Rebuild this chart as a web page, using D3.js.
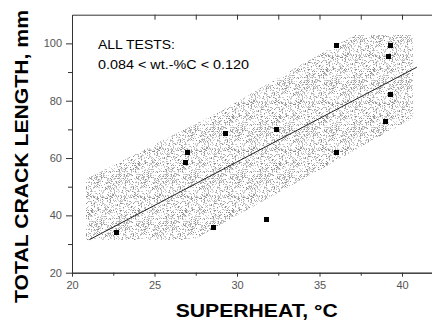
<!DOCTYPE html>
<html>
<head>
<meta charset="utf-8">
<script src="https://cdn.jsdelivr.net/npm/d3@7"></script>
<style>
  html, body { margin: 0; padding: 0; background: #fff; }
  svg { display: block; }
</style>
</head>
<body>
<svg id="chart" width="432" height="321"></svg>
<script>
// ---- data ----
const superheat = [22.7, 26.9, 27.0, 28.6, 29.3, 31.8, 32.4, 36.0, 36.0, 39.0, 39.2, 39.3, 39.3];
const crackLength = [33.9, 58.5, 61.8, 35.6, 68.6, 38.4, 70.0, 61.9, 99.2, 72.8, 95.5, 82.1, 99.2];
const fitX = [21.05, 40.9];
const fitY = [31.5, 91.7];
const bandX = [20.85, 20.85, 28.97, 33.82, 37.15, 40.67, 40.67, 27.33];
const bandY = [31.4, 52.7, 76.2, 92.4, 102.9, 102.9, 74.0, 31.4];
const xMajorTicks = [20, 25, 30, 35, 40];
const xMinorTicks = [22.5, 27.5, 32.5, 37.5];
const xTopTicks = [25, 27.5, 30, 32.5, 35, 37.5, 40];
const yMajorTicks = [20, 40, 60, 80, 100];
const yMinorTicks = [30, 50, 70, 90];
const note1 = "ALL TESTS:";
const note2 = "0.084 < wt.-%C < 0.120";
const xTitle = "SUPERHEAT, °C";
const yTitle = "TOTAL CRACK LENGTH, mm";

// ---- layout ----
const svg = d3.select("#chart");
const x = d3.scaleLinear().domain([20, 42]).range([72, 435]);
const y = d3.scaleLinear().domain([20, 110]).range([272.7, 14.7]);
const axisColor = "#333";
const labelColor = "#555";

// stipple texture (deterministic hash, purely decorative)
function hash(n) {
  n = Math.imul(n ^ (n >>> 16), 0x45d9f3b);
  n = Math.imul(n ^ (n >>> 16), 0x45d9f3b);
  return (n ^ (n >>> 16)) >>> 0;
}
const T = 47;
const defs = svg.append("defs");
const pat = defs.append("pattern").attr("id", "stipple")
  .attr("patternUnits", "userSpaceOnUse").attr("width", T).attr("height", T);
const tiles = [];
for (let i = 0; i < T; i++) {
  for (let j = 0; j < T; j++) {
    const h = hash(i * 7919 + j * 104729 + 12345) % 1000;
    if (h < 330) tiles.push({i, j, c: h < 60 ? "#8c8c8c" : (h < 170 ? "#b0b0b0" : "#cdcdcd")});
  }
}
pat.selectAll("rect").data(tiles).join("rect")
  .attr("x", d => d.i).attr("y", d => d.j).attr("width", 1).attr("height", 1)
  .attr("fill", d => d.c).attr("shape-rendering", "crispEdges");

// band
const bandPts = bandX.map((bx, k) => [x(bx), y(bandY[k])]);
svg.append("path")
  .attr("d", d3.line()(bandPts) + "Z")
  .attr("fill", "url(#stipple)")
  .attr("stroke", "none");

// fit line
svg.append("path")
  .attr("d", d3.line()(fitX.map((fx, k) => [x(fx), y(fitY[k])])))
  .attr("fill", "none").attr("stroke", "#222").attr("stroke-width", 1);

// axes
function styleAxis(g) {
  g.selectAll(".domain").attr("stroke", axisColor).attr("stroke-width", 1);
  g.selectAll(".tick line").attr("stroke", axisColor);
  g.selectAll(".tick text").attr("fill", labelColor)
    .attr("font-family", "'Liberation Sans', Arial, sans-serif").attr("font-size", 11);
}
const gxMinor = svg.append("g").attr("transform", `translate(0,${y(20)})`)
  .call(d3.axisBottom(x).tickValues(xMinorTicks).tickSize(3).tickSizeOuter(0).tickFormat(""));
styleAxis(gxMinor);
const gx = svg.append("g").attr("transform", `translate(0,${y(20)})`)
  .call(d3.axisBottom(x).tickValues(xMajorTicks).tickSize(4).tickPadding(5).tickSizeOuter(0).tickFormat(d3.format("d")));
styleAxis(gx);
const gTop = svg.append("g").attr("transform", `translate(0,${y(110)})`)
  .call(d3.axisTop(x).tickValues(xTopTicks).tickSize(-5).tickSizeOuter(0).tickFormat(""));
styleAxis(gTop);
const gyMinor = svg.append("g").attr("transform", `translate(${x(20)},0)`)
  .call(d3.axisLeft(y).tickValues(yMinorTicks).tickSize(4).tickSizeOuter(0).tickFormat(""));
styleAxis(gyMinor);
const gy = svg.append("g").attr("transform", `translate(${x(20)},0)`)
  .call(d3.axisLeft(y).tickValues(yMajorTicks).tickSize(6).tickPadding(4).tickSizeOuter(0).tickFormat(d3.format("d")));
styleAxis(gy);

// points
const pts = superheat.map((s, k) => ({s, c: crackLength[k]}));
svg.append("g").selectAll("rect").data(pts).join("rect")
  .attr("x", d => x(d.s) - 2.5).attr("y", d => y(d.c) - 2.5)
  .attr("width", 5).attr("height", 5).attr("fill", "#000")
  .attr("shape-rendering", "crispEdges");

// annotation
const annFont = "'Liberation Sans', Arial, sans-serif";
svg.append("text").attr("x", 98).attr("y", 48.5).text(note1)
  .attr("font-family", annFont).attr("font-size", 12.5).attr("fill", "#000")
  .attr("textLength", 77).attr("lengthAdjust", "spacingAndGlyphs");
svg.append("text").attr("x", 98).attr("y", 68.5).text(note2)
  .attr("font-family", annFont).attr("font-size", 12.5).attr("fill", "#000")
  .attr("textLength", 151).attr("lengthAdjust", "spacingAndGlyphs");

// titles
svg.append("text").attr("x", 256.7).attr("y", 317).attr("text-anchor", "middle")
  .text(xTitle).attr("font-family", annFont).attr("font-weight", "bold")
  .attr("font-size", 18.5).attr("fill", "#000")
  .attr("textLength", 162).attr("lengthAdjust", "spacingAndGlyphs");
svg.append("text").attr("transform", "translate(28.2,156.5) rotate(-90)")
  .attr("text-anchor", "middle")
  .text(yTitle).attr("font-family", annFont).attr("font-weight", "bold")
  .attr("font-size", 18.5).attr("fill", "#000")
  .attr("textLength", 293).attr("lengthAdjust", "spacingAndGlyphs");
</script>
</body>
</html>
